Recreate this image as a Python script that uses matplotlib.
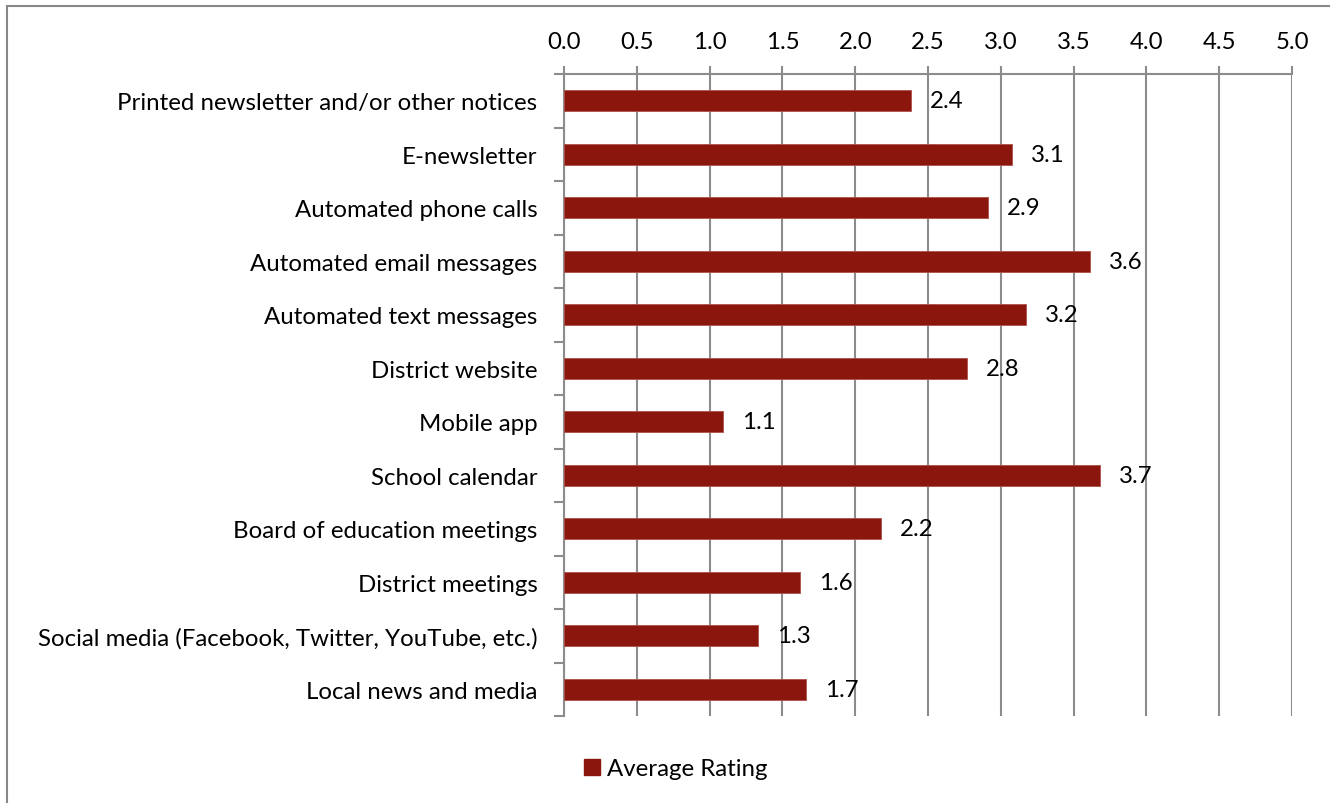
import matplotlib
matplotlib.use("Agg")
import matplotlib.pyplot as plt
from matplotlib.patches import Rectangle, Patch

plt.rcParams['font.family'] = ['Lato', 'DejaVu Sans']

categories = [
    "Printed newsletter and/or other notices",
    "E-newsletter",
    "Automated phone calls",
    "Automated email messages",
    "Automated text messages",
    "District website",
    "Mobile app",
    "School calendar",
    "Board of education meetings",
    "District meetings",
    "Social media (Facebook, Twitter, YouTube, etc.)",
    "Local news and media",
]
ratings = [2.38, 3.08, 2.91, 3.61, 3.17, 2.77, 1.09, 3.68, 2.18, 1.62, 1.33, 1.66]
x_ticks = [0.0, 0.5, 1.0, 1.5, 2.0, 2.5, 3.0, 3.5, 4.0, 4.5, 5.0]
series_name = "Average Rating"

bar_color = "#8B160E"
grid_color = "#8C8C8C"
fs = 17.3

fig = plt.figure(figsize=(13.3, 8.04), dpi=100)
ax = fig.add_axes([564 / 1330, 1 - 717 / 804, (1292 - 564) / 1330, (717 - 75) / 804])

n = len(categories)
y = list(range(n))
ax.barh(y, ratings, height=0.4, color=bar_color, edgecolor="#B0504A",
        linewidth=0.6, zorder=3)
for yi, v in zip(y, ratings):
    ax.text(v + 0.13, yi, f"{v:.1f}", va="center", ha="left", fontsize=fs,
            color="black", zorder=4)

ax.set_xlim(0, 5.0)
ax.set_ylim(n - 0.5, -0.5)
ax.xaxis.tick_top()
ax.set_xticks(x_ticks)
ax.set_xticklabels([f"{t:.1f}" for t in x_ticks], fontsize=fs)
ax.tick_params(axis="x", direction="out", length=6, width=1.5, color=grid_color,
               pad=10)
ax.grid(axis="x", color=grid_color, linewidth=1.5, zorder=0)

# category labels on major ticks, boundary tick marks on minor ticks
ax.set_yticks(y)
ax.set_yticklabels(categories, fontsize=fs)
ax.tick_params(axis="y", which="major", length=0, pad=19)
ax.set_yticks([i - 0.5 for i in range(n + 1)], minor=True)
ax.tick_params(axis="y", which="minor", direction="out", length=7, width=1.5,
               color=grid_color)

for side in ["right", "bottom"]:
    ax.spines[side].set_visible(False)
for side in ["top", "left"]:
    ax.spines[side].set_color(grid_color)
    ax.spines[side].set_linewidth(1.5)

handle = Patch(facecolor=bar_color, edgecolor=bar_color)
fig.legend([handle], [series_name], loc="center", bbox_to_anchor=(676 / 1330, 1 - 770 / 804),
           frameon=False, fontsize=fs, handlelength=0.65, handleheight=0.65,
           handletextpad=0.3)

# outer chart frame
fig.patches.append(Rectangle((7 / 1330, -0.05), 1.1, 1 - 7 / 804 + 0.05,
                             transform=fig.transFigure, fill=False,
                             edgecolor="#888888", linewidth=1.5))

fig.savefig("out.png", dpi=100)
